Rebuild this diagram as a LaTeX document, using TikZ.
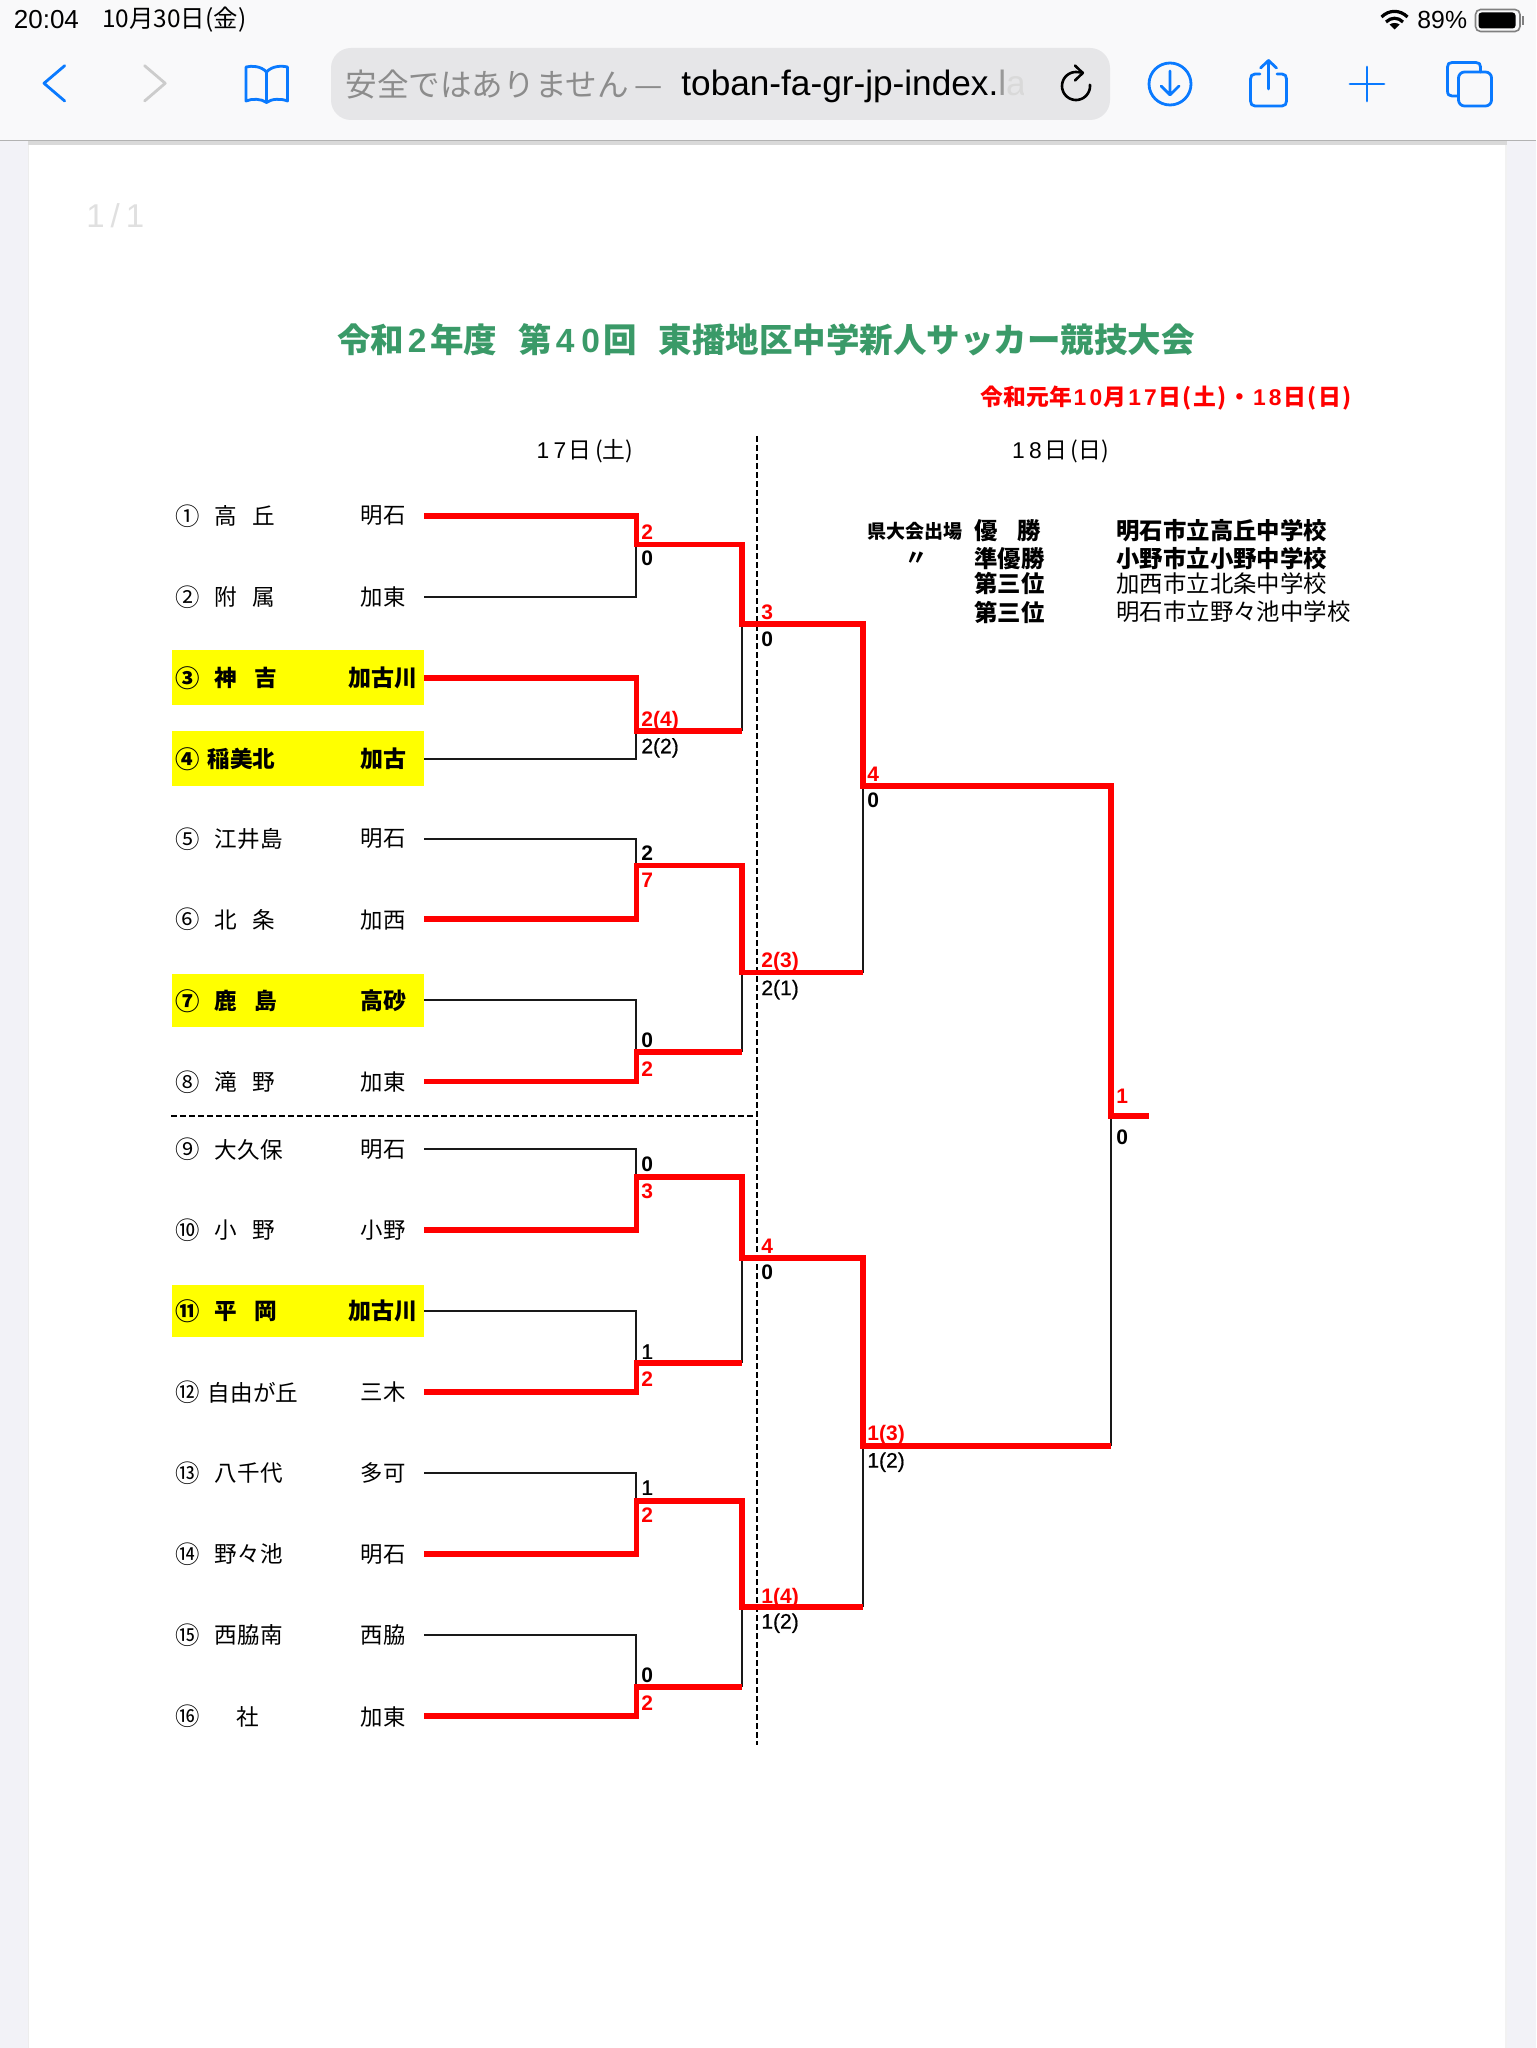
\documentclass[tikz,border=0pt]{standalone}
\usepackage{fontspec}
\setmainfont{Noto Sans CJK JP}
\newfontfamily\lat{Liberation Sans}
\newfontfamily\latm[FakeBold=0.6]{Liberation Sans}
\newcommand{\wdig}[2]{\hspace{#1}{\lat #2}\hspace{#1}}
\definecolor{iosblue}{HTML}{0A7AFF}
\definecolor{titlegreen}{HTML}{3A9A68}
\definecolor{winred}{HTML}{FF0000}
\definecolor{barbg}{HTML}{F9F9FA}
\definecolor{pagebg}{HTML}{F2F2F7}
\definecolor{urlbg}{HTML}{E6E6E8}
\definecolor{yel}{HTML}{FFFF00}
\tikzset{
  team/.style={minimum width=126pt,minimum height=20pt,inner sep=0pt},
  hl/.style={team,fill=yel,minimum height=27.4pt},
  tnum/.style={font=\fontsize{12.2}{12}\selectfont,inner sep=0pt,yshift=-0.2pt},
  tname/.style={font=\fontsize{11.3}{11}\selectfont,inner sep=0pt,anchor=west,yshift=-0.2pt},
  tarea/.style={font=\fontsize{11.2}{11}\selectfont,inner sep=0pt,yshift=-0.2pt},
  hfont/.style={font=\fontsize{11.3}{11}\selectfont\bfseries,inner sep=0pt,anchor=west,yshift=-0.2pt},
  scr/.style={font=\lat\fontsize{10.5}{10.5}\selectfont\bfseries,text=winred,inner sep=0pt,anchor=west,text height=7.6pt,text depth=0pt},
  sbk/.style={font=\latm\fontsize{10.5}{10.5}\selectfont,text=black,inner sep=0pt,anchor=west,text height=7.6pt,text depth=0pt},
  sbb/.style={sbk,font=\lat\fontsize{10.5}{10.5}\selectfont\bfseries},
  lose/.style={draw=black!90,line width=1pt},
  win/.style={draw=winred,line width=2.9pt,line join=miter},
  divider/.style={draw=black,line width=0.8pt,dash pattern=on 3pt off 1.5pt},
  icon/.style={draw=iosblue,line width=1.4pt,line cap=round,line join=round},
  wlab/.style={font=\fontsize{11.7}{11.7}\selectfont\bfseries,inner sep=0pt,anchor=west},
  wsch/.style={font=\fontsize{11.7}{11.7}\selectfont,inner sep=0pt,anchor=west},
}
\begin{document}
\begin{tikzpicture}[x=0.5pt,y=-0.5pt]
\useasboundingbox (0,0) rectangle (1536,2048);
% browser chrome
\fill[pagebg] (0,0) rectangle (1536,2048);
\fill[barbg] (0,0) rectangle (1536,140);
\draw[draw=black!30,line width=0.6pt] (0,140.5) -- (1536,140.5);
\fill[black!7] (27.5,145) rectangle (29.4,2048);
\fill[black!5] (1505,145) rectangle (1507,2048);
\fill[black!15] (27.5,141) rectangle (1507,145);
\fill[white] (29.4,145) rectangle (1505,2048);
\node[font=\lat\fontsize{13}{13}\selectfont,inner sep=0pt,anchor=west] (clock) at (13.5,20) {20:04};
\node[font=\fontsize{12.2}{12}\selectfont,inner sep=0pt,anchor=west] (cdate) at (102,20) {10月30日(金)};
\node[font=\lat\fontsize{12.4}{12.4}\selectfont,inner sep=0pt,anchor=west] (batt) at (1417,20) {89\%};
% wifi
\draw[black,line width=1.6pt,line cap=butt] (1381.5,17) .. controls (1389,9.5) and (1400,9.5) .. (1407.5,17);
\draw[black,line width=1.6pt,line cap=butt] (1386,22) .. controls (1391,17) and (1398,17) .. (1403,22);
\fill[black] (1394.5,29.5) -- (1389.5,24.5) .. controls (1392,22.5) and (1397,22.5) .. (1399.5,24.5) -- cycle;
% battery
\draw[draw=black!50,line width=0.8pt,rounded corners=2.5pt] (1475.5,9.5) rectangle (1520,31.5);
\fill[black,rounded corners=1.5pt] (1478.5,12.5) rectangle (1515.5,28.5);
\fill[black!50] (1522,16) rectangle (1524,25);
% nav icons
\draw[icon] (64.7,65.7) -- (44,83.3) -- (64.7,101);
\draw[icon,draw=black!20] (144.6,65.7) -- (165.2,83.3) -- (144.6,101);
\draw[icon] (266.5,72) .. controls (261,66) and (252,65.5) .. (246,67) -- (246,101) .. controls (252,98.5) and (261,98.5) .. (266.5,102.5) .. controls (272,98.5) and (281,98.5) .. (287.5,101) -- (287.5,67) .. controls (281,65.5) and (272,66) .. (266.5,72) -- (266.5,102);
% url bar
\fill[urlbg,rounded corners=10pt] (331,48) rectangle (1110,120);
\node[font=\fontsize{15.8}{15.8}\selectfont,text=black!45,inner sep=0pt,anchor=west] (urlj) at (345,84) {安全ではありません\hspace{3pt}—};
\node[font=\lat\fontsize{17.6}{17.6}\selectfont,inner sep=0pt,anchor=base west] (urlt) at (681,96) {toban-fa-gr-jp-index.\textcolor{black!40}{l}\textcolor{black!15}{a}};
\fill[urlbg] (1024,60) rectangle (1050,110);
\draw[black,line width=1.3pt,line cap=round,line join=round] plot[domain=-5:270,samples=40] ({1076+14*cos(\x)},{86+14*sin(\x)}) -- (1082.7,72.5);
\draw[black,line width=1.3pt,line cap=round,line join=round] (1075,65.5) -- (1082.7,73) -- (1075,80.5);
\draw[icon] (1170,84) circle[radius=10.5pt];
\draw[icon] (1170,71) -- (1170,94) (1161,86) -- (1170,95) -- (1179,86);
\draw[icon] (1260,74) -- (1255,74) .. controls (1252,74) and (1250.5,76) .. (1250.5,79) -- (1250.5,101) .. controls (1250.5,104) and (1252,106) .. (1255,106) -- (1282,106) .. controls (1285,106) and (1286.5,104) .. (1286.5,101) -- (1286.5,79) .. controls (1286.5,76) and (1285,74) .. (1282,74) -- (1277,74);
\draw[icon] (1268.5,89) -- (1268.5,60.5) (1260.5,68) -- (1268.5,60.5) -- (1276.5,68);
\draw[icon] (1367,67) -- (1367,101) (1350,84) -- (1384,84);
\draw[icon] (1458,96) -- (1452,96) .. controls (1449,96) and (1447.5,94.5) .. (1447.5,91) -- (1447.5,67) .. controls (1447.5,64) and (1449,62.5) .. (1452,62.5) -- (1476,62.5) .. controls (1479,62.5) and (1480.5,64) .. (1480.5,67) -- (1480.5,72);
\draw[icon,rounded corners=3pt] (1458.5,72) rectangle (1491.5,106);
\node[font=\lat\fontsize{16.5}{16}\selectfont,text=black!12,inner sep=0pt,anchor=west] (pg) at (86,216) {1\hspace{3pt}/\hspace{3pt}1};
% titles
\node[font=\fontsize{16.75}{16.6}\selectfont\bfseries,text=titlegreen,inner sep=0pt,anchor=west] (title) at (337,340) {令和\wdig{1.75pt}{2}年度\hspace{10.9pt}第\wdig{1.75pt}{4}\wdig{1.75pt}{0}回\hspace{10.9pt}東播地区中学新人サッカー競技大会};
\node[font=\fontsize{11.4}{11.4}\selectfont\bfseries,text=winred,inner sep=0pt,anchor=west,yshift=-0.5pt] (dt) at (980.5,397) {令和元年\wdig{.8pt}{1}\wdig{.8pt}{0}月\wdig{.8pt}{1}\wdig{.8pt}{7}日\hspace{.8pt}(\hspace{.8pt}土\hspace{.8pt})\hspace{.8pt}・\wdig{.8pt}{1}\wdig{.8pt}{8}日\hspace{.8pt}(\hspace{.8pt}日\hspace{.8pt})};
\node[font=\fontsize{11.4}{11.4}\selectfont,inner sep=0pt,anchor=west,yshift=-0.5pt] (d1) at (534,450) {\wdig{1.1pt}{1}\wdig{1.1pt}{7}日\hspace{1.9pt}(土)\hspace{1.5pt}};
\node[font=\fontsize{11.4}{11.4}\selectfont,inner sep=0pt,anchor=west,yshift=-0.5pt] (d2) at (1009.5,450) {\wdig{1.1pt}{1}\wdig{1.1pt}{8}日\hspace{1.9pt}(日)\hspace{1.5pt}};
% winners table
\node[font=\fontsize{9.5}{9.5}\selectfont\bfseries,inner sep=0pt,anchor=west] (w0) at (867.5,531.7) {県大会出場};
\node[font=\fontsize{11}{11}\selectfont\bfseries\itshape,inner sep=0pt] (w0b) at (916,558.7) {〃};
\node[wlab] (wl1) at (974,530.7) {優\hspace{10pt}勝};
\node[wlab] (wl2) at (974,558.7) {準優勝};
\node[wlab] (wl3) at (974,583.3) {第三位};
\node[wlab] (wl4) at (974,612) {第三位};
\node[wsch,font=\fontsize{11.7}{11.7}\selectfont\bfseries] (ws1) at (1116,530.7) {明石市立高丘中学校};
\node[wsch,font=\fontsize{11.7}{11.7}\selectfont\bfseries] (ws2) at (1116,558.7) {小野市立小野中学校};
\node[wsch] (ws3) at (1116,583.3) {加西市立北条中学校};
\node[wsch] (ws4) at (1116,612) {明石市立野々池中学校};
% team rows
\node[team] (t1) at (298,515.6) {};
\node[team] (t2) at (298,597) {};
\node[hl]   (t3) at (298,677.7) {};
\node[hl]   (t4) at (298,758.8) {};
\node[team] (t5) at (298,838.6) {};
\node[team] (t6) at (298,919.3) {};
\node[hl,minimum height=26.5pt] (t7) at (298,1000.4) {};
\node[team] (t8) at (298,1081.4) {};
\node[team] (t9) at (298,1149.2) {};
\node[team] (t10) at (298,1230) {};
\node[hl,minimum height=26pt] (t11) at (298,1310.9) {};
\node[team] (t12) at (298,1392) {};
\node[team] (t13) at (298,1472.9) {};
\node[team] (t14) at (298,1553.7) {};
\node[team] (t15) at (298,1634.9) {};
\node[team] (t16) at (298,1716.2) {};
% numbers
\node[tnum] (n1) at (188,515.6) {①};
\node[tnum] (n2) at (188,597) {②};
\node[tnum,font=\fontsize{12.2}{12}\selectfont\bfseries] (n3) at (188,677.7) {③};
\node[tnum,font=\fontsize{12.2}{12}\selectfont\bfseries] (n4) at (188,758.8) {④};
\node[tnum] (n5) at (188,838.6) {⑤};
\node[tnum] (n6) at (188,919.3) {⑥};
\node[tnum,font=\fontsize{12.2}{12}\selectfont\bfseries] (n7) at (188,1000.4) {⑦};
\node[tnum] (n8) at (188,1081.4) {⑧};
\node[tnum] (n9) at (188,1149.2) {⑨};
\node[tnum] (n10) at (188,1230) {⑩};
\node[tnum,font=\fontsize{12.2}{12}\selectfont\bfseries] (n11) at (188,1310.9) {⑪};
\node[tnum] (n12) at (188,1392) {⑫};
\node[tnum] (n13) at (188,1472.9) {⑬};
\node[tnum] (n14) at (188,1553.7) {⑭};
\node[tnum] (n15) at (188,1634.9) {⑮};
\node[tnum] (n16) at (188,1716.2) {⑯};
% names
\node[tname] (a1x) at (214.5,515.6) {高\hspace{7.5pt}丘};
\node[tname] (a2x) at (214.5,597) {附\hspace{7.5pt}属};
\node[hfont] (a3x) at (214.5,677.7) {神\hspace{8.5pt}吉};
\node[hfont] (a4x) at (207,758.8) {稲美北};
\node[tname] (a5x) at (214.5,838.6) {江井島};
\node[tname] (a6x) at (214.5,919.3) {北\hspace{7.5pt}条};
\node[hfont] (a7x) at (214.5,1000.4) {鹿\hspace{8.5pt}島};
\node[tname] (a8x) at (214.5,1081.4) {滝\hspace{7.5pt}野};
\node[tname] (a9x) at (214.5,1149.2) {大久保};
\node[tname] (a10x) at (214.5,1230) {小\hspace{7.5pt}野};
\node[hfont] (a11x) at (214.5,1310.9) {平\hspace{8.5pt}岡};
\node[tname] (a12x) at (207.5,1392) {自由が丘};
\node[tname] (a13x) at (214.5,1472.9) {八千代};
\node[tname] (a14x) at (214.5,1553.7) {野々池};
\node[tname] (a15x) at (214.5,1634.9) {西脇南};
\node[tname] (a16x) at (236.5,1716.2) {社};
% areas
\node[tarea] (b1x) at (383,515.6) {明石};
\node[tarea] (b2x) at (383,597) {加東};
\node[tarea,font=\fontsize{11.5}{11}\selectfont\bfseries] (b3x) at (383,677.7) {加古川};
\node[tarea,font=\fontsize{11.5}{11}\selectfont\bfseries] (b4x) at (383,758.8) {加古};
\node[tarea] (b5x) at (383,838.6) {明石};
\node[tarea] (b6x) at (383,919.3) {加西};
\node[tarea,font=\fontsize{11.5}{11}\selectfont\bfseries] (b7x) at (383,1000.4) {高砂};
\node[tarea] (b8x) at (383,1081.4) {加東};
\node[tarea] (b9x) at (383,1149.2) {明石};
\node[tarea] (b10x) at (383,1230) {小野};
\node[tarea,font=\fontsize{11.5}{11}\selectfont\bfseries] (b11x) at (383,1310.9) {加古川};
\node[tarea] (b12x) at (383,1392) {三木};
\node[tarea] (b13x) at (383,1472.9) {多可};
\node[tarea] (b14x) at (383,1553.7) {明石};
\node[tarea] (b15x) at (383,1634.9) {西脇};
\node[tarea] (b16x) at (383,1716.2) {加東};
% junctions
\coordinate (a1) at (636.4,544.5);
\coordinate (a2) at (636.4,731);
\coordinate (a3) at (636.4,865.5);
\coordinate (a4) at (636.4,1052);
\coordinate (a5) at (636.4,1176.6);
\coordinate (a6) at (636.4,1363);
\coordinate (a7) at (636.4,1500.7);
\coordinate (a8) at (636.4,1686.7);
\coordinate (b1) at (742,623.9);
\coordinate (b2) at (742,972.5);
\coordinate (b3) at (742,1258.2);
\coordinate (b4) at (742,1607);
\coordinate (c1) at (862.7,785.8);
\coordinate (c2) at (862.7,1446);
\coordinate (f) at (1111,1115.7);
\coordinate (e) at (1149,1115.7);
% dividers
\coordinate (dv1) at (756.7,436);
\coordinate (dv2) at (756.7,1745);
\coordinate (dh1) at (171,1116);
\coordinate (dh2) at (756.7,1116);
\draw[divider] (dv1) -- (dv2);
\draw[divider] (dh1) -- (dh2);
% losers
\draw[lose] (t2.east) -| (a1);
\draw[lose] (t4.east) -| (a2);
\draw[lose] (t5.east) -| (a3);
\draw[lose] (t7.east) -| (a4);
\draw[lose] (t9.east) -| (a5);
\draw[lose] (t11.east) -| (a6);
\draw[lose] (t13.east) -| (a7);
\draw[lose] (t15.east) -| (a8);
\draw[lose] (b1) -- (a2 -| b1);
\draw[lose] (b2) -- (a4 -| b2);
\draw[lose] (b3) -- (a6 -| b3);
\draw[lose] (b4) -- (a8 -| b4);
\draw[lose] (c1) -- (b2 -| c1);
\draw[lose] (c2) -- (b4 -| c2);
\draw[lose] (f) -- (c2 -| f);
% winners
\draw[win] (t1.east) -| (a1) -| (b1) -| (c1) -| (f) -- (e);
\draw[win] (t3.east) -| (a2) -- (a2 -| b1);
\draw[win] (t6.east) -| (a3) -| (b2) -- (b2 -| c1);
\draw[win] (t8.east) -| (a4) -- (a4 -| b2);
\draw[win] (t10.east) -| (a5) -| (b3) -| (c2) -- (c2 -| f);
\draw[win] (t12.east) -| (a6) -- (a6 -| b3);
\draw[win] (t14.east) -| (a7) -| (b4) -- (b4 -| c2);
\draw[win] (t16.east) -| (a8) -- (a8 -| b4);
% scores round 1
\node[scr] (s1) at (641,531.4) {2};
\node[sbb] (s2) at (641,558.3) {0};
\node[scr] (s3) at (641,719.2) {2(4)};
\node[sbk] (s4) at (641,745.7) {2(2)};
\node[sbb] (s5) at (641,852.9) {2};
\node[scr] (s6) at (641,880) {7};
\node[sbb] (s7) at (641,1040.3) {0};
\node[scr] (s8) at (641,1068.4) {2};
\node[sbb] (s9) at (641,1163.6) {0};
\node[scr] (s10) at (641,1190.5) {3};
\node[sbk] (s11) at (641,1351.3) {1};
\node[scr] (s12) at (641,1378.6) {2};
\node[sbk] (s13) at (641,1487.2) {1};
\node[scr] (s14) at (641,1515) {2};
\node[sbb] (s15) at (641,1675) {0};
\node[scr] (s16) at (641,1702.7) {2};
% round 2
\node[scr] (s17) at (761,611.7) {3};
\node[sbb] (s18) at (761,638.5) {0};
\node[scr] (s19) at (761,960.3) {2(3)};
\node[sbk] (s20) at (761,987.5) {2(1)};
\node[scr] (s21) at (761,1246) {4};
\node[sbb] (s22) at (761,1272) {0};
\node[scr] (s23) at (761,1596) {1(4)};
\node[sbk] (s24) at (761,1621) {1(2)};
% round 3
\node[scr] (s25) at (867,773.5) {4};
\node[sbb] (s26) at (867,800.3) {0};
\node[scr] (s27) at (867,1433) {1(3)};
\node[sbk] (s28) at (867,1460) {1(2)};
% final
\node[scr] (s29) at (1116,1095.8) {1};
\node[sbb] (s30) at (1116,1136.7) {0};
\end{tikzpicture}
\end{document}
